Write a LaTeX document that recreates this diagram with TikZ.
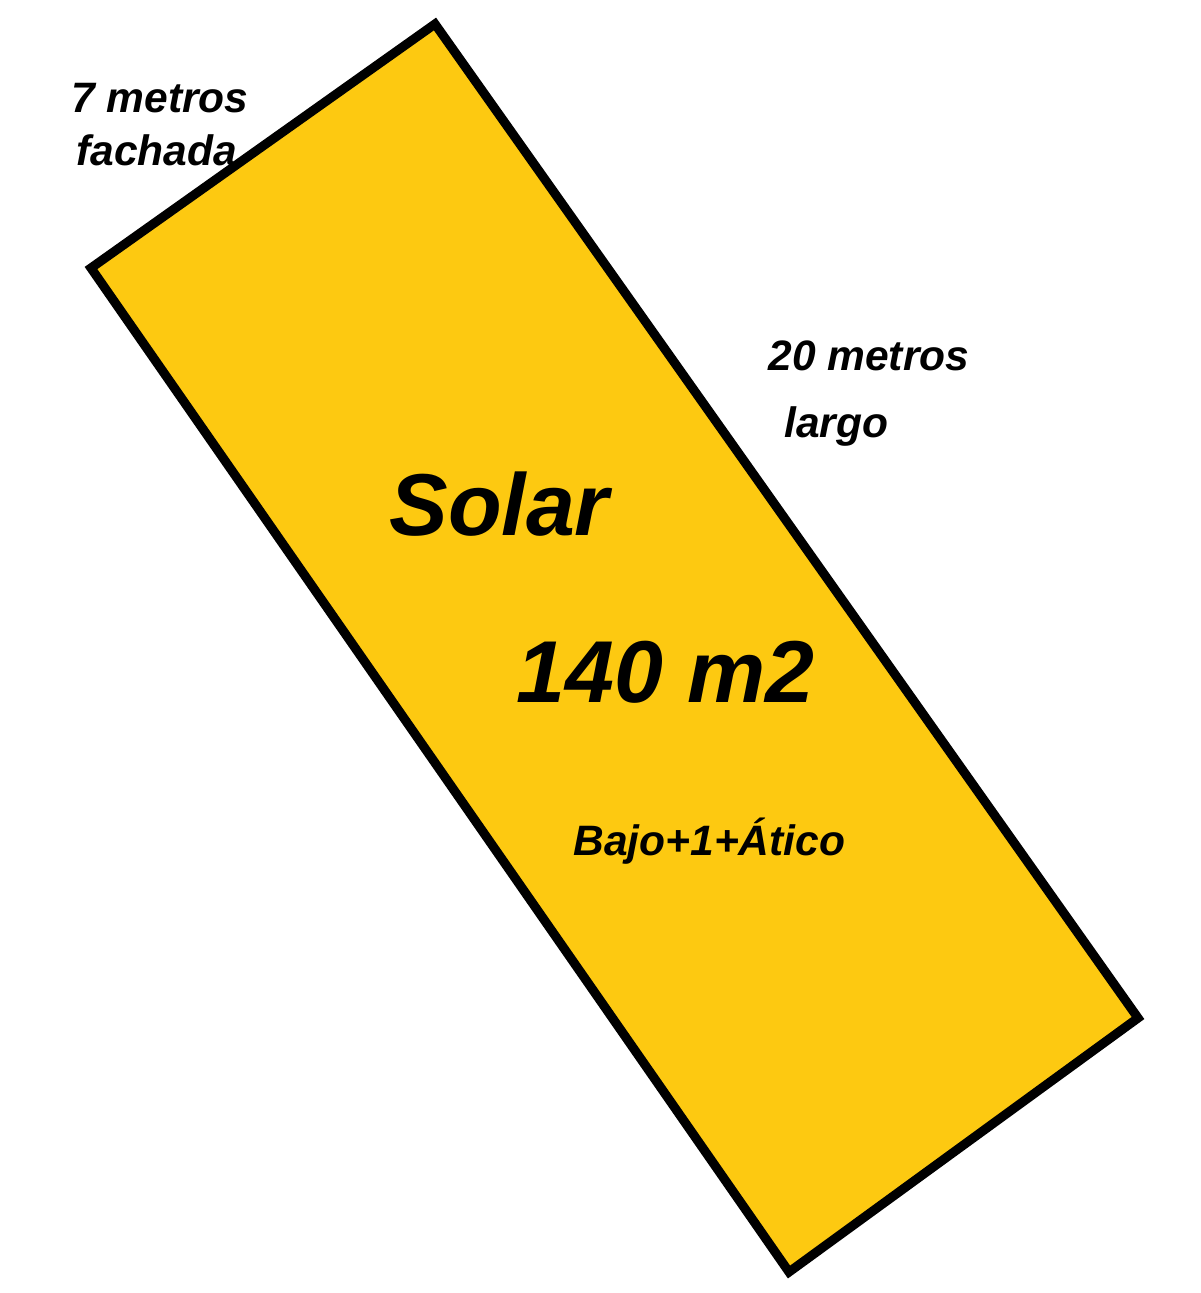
\documentclass[tikz,border=0pt]{standalone}
\usepackage{fontspec}
\setmainfont{Liberation Sans}
\usepackage{xcolor}
\usepackage{tikz}
\usetikzlibrary{positioning}
\definecolor{amarillo}{RGB}{253,201,17}

\begin{document}
\begin{tikzpicture}[
	thick,
	font=\bfseries\itshape
]
\tikzset{
    medida/.style = {anchor=base west, inner sep=0pt, font=\fontsize{12.1}{19}\selectfont\bfseries\itshape},
    rotulo/.style = {anchor=base west, inner sep=0pt, font=\fontsize{25}{30}\selectfont\bfseries\itshape},
    solar/.style  = {draw=black, line width=2.6pt, line join=miter, fill=amarillo}
}
\useasboundingbox (0,0) rectangle (12,-12.93);
\coordinate (arriba) at (4.35,-0.24);
\coordinate (dcha)   at (11.38,-10.18);
\coordinate (abajo)  at (7.89,-12.72);
\coordinate (izq)    at (0.91,-2.68);
\draw[solar] (arriba) -- (dcha) -- (abajo) -- (izq) -- cycle;
\node[medida] (siete)   at (0.70,-1.12) {7 metros};
\node[medida] (fachada) at (0.75,-1.65) {fachada};
\node[medida] (metros)  at (7.67,-3.70) {20 metros};
\node[medida] (largo)   at (7.83,-4.37) {largo};
\node[rotulo] (nombre)  at (3.88,-5.35) {Solar};
\node[rotulo] (area)    at (5.15,-7.02) {140 m2};
\node[medida] (plantas) at (5.72,-8.55) {Bajo+1+Ático};
\end{tikzpicture}
\end{document}
